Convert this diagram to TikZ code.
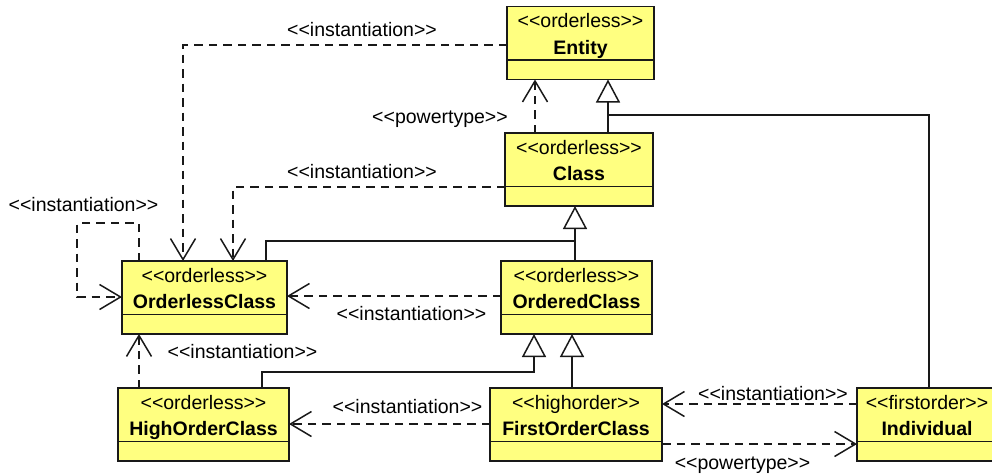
\documentclass[tikz,border=0pt]{standalone}
\usepackage{fontspec}
\setmainfont{Liberation Sans}
\usetikzlibrary{arrows.meta,calc}
\definecolor{boxfill}{RGB}{255,255,128}
\definecolor{ink}{RGB}{25,25,25}
\tikzset{
  classbox/.style={draw=ink, line width=1.7pt, fill=boxfill, minimum height=73pt,
    inner sep=0pt, outer sep=0pt, anchor=north west},
  divider/.style={draw=ink, line width=1.7pt},
  txt/.style={inner sep=0pt, anchor=base, font=\fontsize{19.5}{23}\selectfont},
  boldtxt/.style={txt, font=\fontsize{19.5}{23}\selectfont\bfseries},
  conn/.style={draw=ink, line width=1.5pt},
  dep/.style={conn, dash pattern=on 8.5pt off 6pt,
    -{Straight Barb[length=21pt,width=25pt,line width=1.5pt]}},
  gen/.style={conn, -{Triangle[length=23pt,width=24pt,fill=white,line width=1.5pt]}},
}
\newcommand{\umlclass}[6]{%
  \node[classbox, minimum width=#4pt] (#1) at (#2,#3) {};
  \draw[divider] ($(#1.north west)+(0,53.5)$) -- ($(#1.north east)+(0,53.5)$);
  \node[txt] (#1-st) at ($(#1.north)+(0,21)$) {<{}<#5>{}>};
  \node[boldtxt] (#1-nm) at ($(#1.north)+(0,47.5)$) {#6};
}
\newcommand{\stlabel}[3]{\node[txt] (#1) at (#2) {<{}<#3>{}>};}
\begin{document}
\begin{tikzpicture}[x=1pt,y=-1pt]
\useasboundingbox (0,0) rectangle (992,475);
% classes
\umlclass{ent}{507}{6.5}{147}{orderless}{Entity}
\umlclass{cls}{505}{133}{148}{orderless}{Class}
\umlclass{olc}{122}{261}{165}{orderless}{OrderlessClass}
\umlclass{ord}{501}{261}{151}{orderless}{OrderedClass}
\umlclass{hoc}{118}{388}{171}{orderless}{HighOrderClass}
\umlclass{foc}{490}{388}{172}{highorder}{FirstOrderClass}
\umlclass{ind}{857}{388}{140}{firstorder}{Individual}
% labels
\stlabel{l1}{362,36}{instantiation}
\stlabel{l2}{440,123}{powertype}
\stlabel{l3}{362,178}{instantiation}
\stlabel{l4}{83.5,211}{instantiation}
\stlabel{l5}{411.5,320}{instantiation}
\stlabel{l6}{242.5,358}{instantiation}
\stlabel{l7}{407.5,413}{instantiation}
\stlabel{l8}{773,400}{instantiation}
\stlabel{l9}{742.5,469}{powertype}
% junctions
\coordinate (j1) at (608,115);
\coordinate (j2) at (575,241);
% connectors
\draw[dep] (ent.west |- 0,45) -| (olc.north -| 183,0);
\draw[dep] (cls.north -| 535,0) -- (ent.south -| 535,0);
\draw[gen] (cls.north -| 608,0) -- (ent.south -| 608,0);
\draw[conn] (ind.north -| 929,0) |- (j1);
\draw[dep] (cls.west |- 0,187) -| (olc.north -| 233,0);
\draw[dep] (olc.north -| 139,0) |- (77,223) |- (olc.west |- 0,297);
\draw[gen] (ord.north -| 575,0) -- (cls.south -| 575,0);
\draw[conn] (olc.north -| 266,0) |- (j2);
\draw[dep] (ord.west |- 0,296) -- (olc.east |- 0,296);
\draw[dep] (hoc.north -| 139,0) -- (olc.south -| 139,0);
\draw[gen] (hoc.north -| 262,0) |- (534,372) -- (ord.south -| 534,0);
\draw[gen] (foc.north -| 572,0) -- (ord.south -| 572,0);
\draw[dep] (foc.west |- 0,424) -- (hoc.east |- 0,424);
\draw[dep] (ind.west |- 0,404) -- (foc.east |- 0,404);
\draw[dep] (foc.east |- 0,444) -- (ind.west |- 0,444);
\end{tikzpicture}
\end{document}
